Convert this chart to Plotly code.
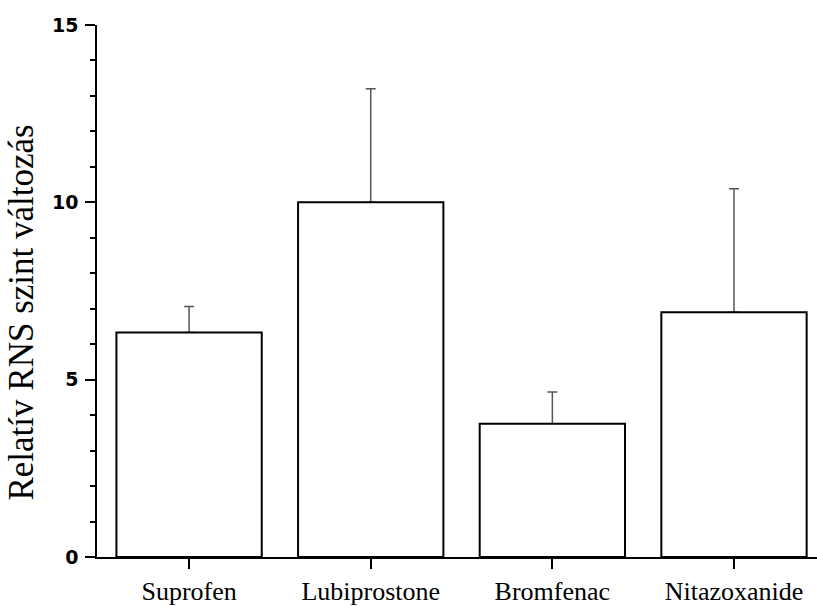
import plotly.graph_objects as go

# Relative RNA level change per compound (mean with upper error)
categories = ["Suprofen", "Lubiprostone", "Bromfenac", "Nitazoxanide"]
values = [6.33, 10.0, 3.76, 6.9]
errors = [0.73, 3.2, 0.89, 3.48]
y_ticks = [0, 5, 10, 15]
y_title = "Relatív RNS szint változás"

x_idx = list(range(len(categories)))
no_lower = [0] * len(values)

fig = go.Figure()

# Error bars first (transparent bars), so the outlined bars cover the lower cap
fig.add_trace(go.Bar(
    x=x_idx, y=values, width=0.8,
    marker=dict(color="rgba(0,0,0,0)", line=dict(width=0)),
    error_y=dict(type="data", symmetric=False, array=errors, arrayminus=no_lower,
                 color="#555555", thickness=1.5, width=5),
    hoverinfo="skip", showlegend=False,
))

# White bars with black outline
fig.add_trace(go.Bar(
    x=x_idx, y=values, width=0.8,
    marker=dict(color="white", line=dict(color="black", width=2)),
    showlegend=False,
))

fig.update_layout(
    width=817, height=606,
    margin=dict(l=97, r=0, t=25, b=49),
    paper_bgcolor="white", plot_bgcolor="white",
    barmode="overlay",
    xaxis=dict(
        range=[-0.507, 3.457],
        tickmode="array", tickvals=x_idx, ticktext=categories,
        showline=True, linecolor="black", linewidth=1.5,
        ticks="outside", ticklen=10, tickwidth=1.5, tickcolor="black",
        tickfont=dict(family="Liberation Serif", size=26, color="black"),
        showgrid=False, zeroline=False,
    ),
    yaxis=dict(
        range=[0, 15],
        tickmode="array", tickvals=y_ticks, ticktext=[str(v) for v in y_ticks],
        showline=True, linecolor="black", linewidth=1.5,
        ticks="outside", ticklen=10, tickwidth=1.5, tickcolor="black",
        minor=dict(dtick=1, ticks="outside", ticklen=5, tickwidth=1.5, tickcolor="black", showgrid=False),
        tickfont=dict(family="DejaVu Sans", size=19, color="black", weight="bold"),
        ticklabelstandoff=3,
        showgrid=False, zeroline=False,
    ),
    annotations=[dict(
        text=y_title, textangle=-90, showarrow=False,
        xref="paper", yref="paper", x=-0.075, y=0.4586,
        xanchor="right", yanchor="middle",
        font=dict(family="Liberation Serif", size=35, color="black"),
    )],
)

fig.write_html("out.html")
